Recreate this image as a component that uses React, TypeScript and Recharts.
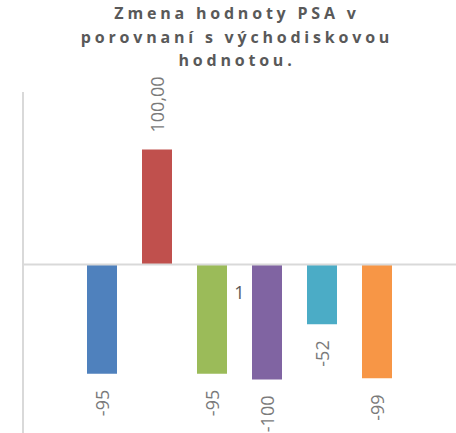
import { BarChart, Bar, XAxis, YAxis, ReferenceLine, LabelList } from "recharts";

// single category, six series (Office 2007 palette)
const categories = ["1"];
const seriesValues = [-95, 100, -95, -100, -52, -99];
const seriesLabels = ["-95", "100,00", "-95", "-100", "-52", "-99"];
const seriesColors = ["#4F81BD", "#C0504D", "#9BBB59", "#8064A2", "#4BACC6", "#F79646"];
const yDomain = [-150, 150];
const titleLines = ["Zmena hodnoty PSA v", "porovnaní s východiskovou", "hodnotou."];

const data = categories.map((name) => {
  const row: Record<string, any> = { name };
  seriesValues.forEach((v, i) => {
    row[`s${i}`] = v;
  });
  return row;
});

const RotatedLabel = (props: any) => {
  const vb = props.viewBox ?? props;
  const x = vb.x ?? props.x;
  const y = vb.y ?? props.y;
  const width = vb.width ?? props.width;
  const height = vb.height ?? props.height;
  const top = Math.min(y, y + height);
  const bottom = Math.max(y, y + height);
  const cx = x + width / 2;
  const positive = !props.text.startsWith("-");
  const ty = positive ? top - 17 : bottom + 16;
  return (
    <text
      x={cx}
      y={ty}
      transform={`rotate(-90 ${cx} ${ty})`}
      textAnchor={positive ? "start" : "end"}
      dominantBaseline="central"
      fontFamily="Open Sans"
      fontSize={18}
      fill="#7a7a7a"
    >
      {props.text}
    </text>
  );
};

export default function App() {
  return (
    <div style={{ position: "absolute", left: 0, top: 0, width: 456, height: 433, overflow: "hidden", background: "#fff" }}>
      <div
        style={{
          position: "absolute",
          left: 0,
          top: 2,
          width: 474,
          textAlign: "center",
          fontFamily: "Open Sans",
          fontWeight: 700,
          fontSize: 16,
          lineHeight: "23.5px",
          letterSpacing: 3.8,
          color: "#595959",
        }}
      >
        {titleLines.map((t) => (
          <div key={t}>{t}</div>
        ))}
      </div>
      <BarChart
        width={456}
        height={440}
        data={data}
        margin={{ top: 92, right: 0, bottom: 3, left: 21 }}
        barSize={30}
        barGap={25}
      >
        <XAxis dataKey="name" hide />
        <YAxis
          domain={yDomain}
          width={2}
          tick={false}
          tickLine={false}
          axisLine={{ stroke: "#d9d9d9", strokeWidth: 2 }}
        />
        <ReferenceLine
          y={0}
          stroke="#d9d9d9"
          strokeWidth={2}
          label={{
            value: categories[0],
            position: "bottom",
            offset: 22,
            fill: "#595959",
            fontSize: 18,
            fontFamily: "Open Sans",
          }}
        />
        {seriesValues.map((_, i) => (
          <Bar key={i} dataKey={`s${i}`} fill={seriesColors[i]} isAnimationActive={false}>
            <LabelList dataKey={`s${i}`} content={(p: any) => <RotatedLabel {...p} text={seriesLabels[i]} />} />
          </Bar>
        ))}
      </BarChart>
    </div>
  );
}
